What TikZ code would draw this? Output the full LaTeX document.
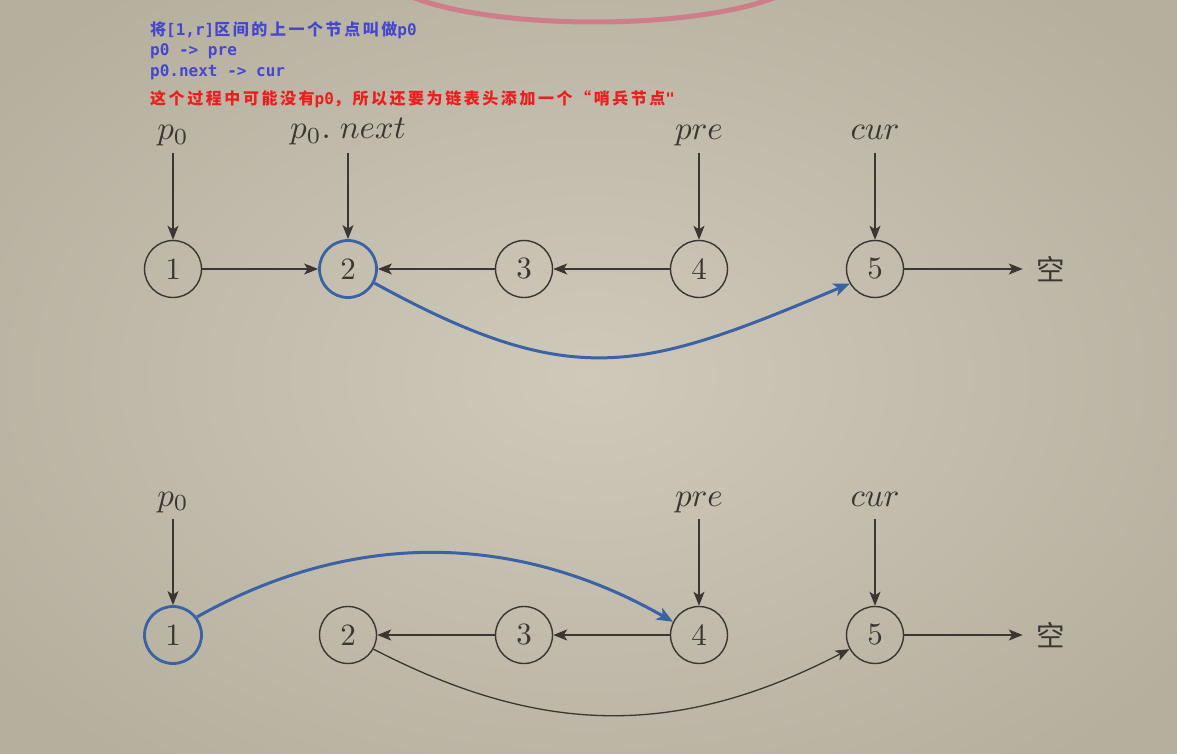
\documentclass[tikz,border=0pt]{standalone}
\usepackage{fontspec}
\usepackage{graphicx}
\newfontfamily\cjkfont[LetterSpace=16]{Noto Sans CJK SC}
\newfontfamily\cjkbig{Noto Sans CJK SC}
\newfontfamily\monofont{DejaVu Sans Mono}
\usetikzlibrary{arrows.meta}
\definecolor{ink}{HTML}{3B3631}
\definecolor{myblue}{HTML}{3A62A4}
\definecolor{codeblue}{HTML}{4646CE}
\definecolor{codered}{HTML}{EE1C1C}
\definecolor{pinkc}{HTML}{CF7C8B}
\definecolor{bgmid}{HTML}{CFC9BA}
\definecolor{bgout}{HTML}{B5AF9E}
\newcommand\cj[1]{{\cjkfont #1}}
\newcommand\lblmath[1]{\scalebox{3.3}{\normalsize$#1$}}
\newcommand\lbldigit[1]{\scalebox{3.1}{\normalsize #1}}
\tikzset{
  lnode/.style={circle, draw=ink, line width=1.4pt, minimum size=57pt, inner sep=0pt, text=ink},
  bnode/.style={lnode, draw=myblue, line width=2.8pt},
  lab/.style={anchor=base, inner sep=0pt, text=ink},
  arr/.style={draw=ink, line width=1.3pt, -{Stealth[length=14pt,width=11pt,inset=3.5pt]}},
  barr/.style={draw=myblue, line width=3pt, -{Stealth[length=16pt,width=13pt,inset=4pt]}},
  code/.style={anchor=base west, inner sep=0pt, font=\monofont\bfseries\fontsize{16}{19}\selectfont},
  emptynode/.style={inner sep=0pt, outer sep=14pt, text=ink, font=\cjkbig\fontsize{28.5}{34}\selectfont}
}
\begin{document}
\begin{tikzpicture}[x=1pt,y=-1pt]
\useasboundingbox (0,0) rectangle (1177,754);
\clip (0,0) rectangle (1177,754);
\fill[bgout] (0,0) rectangle (1177,754);
\shade[inner color=bgmid, outer color=bgout] (-150,-120) rectangle (1327,874);
\draw[pinkc, line width=5pt] (594,-30) ellipse [x radius=213, y radius=52];

% top text
\node[code, text=codeblue] (t1) at (150,36) {\cj{将}[1,r]\cj{区间的上一个节点叫做}p0};
\node[code, text=codeblue] (t2) at (150,56) {p0 -> pre};
\node[code, text=codeblue] (t3) at (150,77) {p0.next -> cur};
\node[code, text=codered] (t4) at (150,105) {\cj{这个过程中可能没有}p0\cj{，所以还要为链表头添加一个“哨兵节点}"};

% row 1
\node[lnode] (r1n1) at (173,269) {\lbldigit{1}};
\node[bnode] (r1n2) at (348,269) {\lbldigit{2}};
\node[lnode] (r1n3) at (524,269) {\lbldigit{3}};
\node[lnode] (r1n4) at (699,269) {\lbldigit{4}};
\node[lnode] (r1n5) at (875,269) {\lbldigit{5}};
\node[emptynode] (r1e) at (1051,269) {空};

\node[lab] (l1a) at (173,140) {\lblmath{p_0}};
\node[lab] (l1b) at (348,139) {\lblmath{p_0.\;next}};
\node[lab] (l1c) at (699,140) {\lblmath{pre}};
\node[lab] (l1d) at (875,140) {\lblmath{cur}};
\coordinate (s1a) at (173,153);
\coordinate (s1b) at (348,153);
\coordinate (s1c) at (699,153);
\coordinate (s1d) at (875,153);
\draw[arr] (s1a) -- (r1n1);
\draw[arr] (s1b) -- (r1n2);
\draw[arr] (s1c) -- (r1n4);
\draw[arr] (s1d) -- (r1n5);

\draw[arr] (r1n1) -- (r1n2);
\draw[arr] (r1n3) -- (r1n2);
\draw[arr] (r1n4) -- (r1n3);
\draw[arr] (r1n5) -- (r1e);
\draw[barr] (r1n2.-28) .. controls +(200,110) and +(-207,87) .. (r1n5.-150);

% row 2
\node[bnode] (r2n1) at (173,635) {\lbldigit{1}};
\node[lnode] (r2n2) at (348,635) {\lbldigit{2}};
\node[lnode] (r2n3) at (524,635) {\lbldigit{3}};
\node[lnode] (r2n4) at (699,635) {\lbldigit{4}};
\node[lnode] (r2n5) at (875,635) {\lbldigit{5}};
\node[emptynode] (r2e) at (1051,635) {空};

\node[lab] (l2a) at (173,506) {\lblmath{p_0}};
\node[lab] (l2c) at (699,506) {\lblmath{pre}};
\node[lab] (l2d) at (875,506) {\lblmath{cur}};
\coordinate (s2a) at (173,519);
\coordinate (s2c) at (699,519);
\coordinate (s2d) at (875,519);
\draw[arr] (s2a) -- (r2n1);
\draw[arr] (s2c) -- (r2n4);
\draw[arr] (s2d) -- (r2n5);

\draw[arr] (r2n3) -- (r2n2);
\draw[arr] (r2n4) -- (r2n3);
\draw[arr] (r2n5) -- (r2e);
\draw[barr] (r2n1.37) .. controls +(157,-88) and +(-156,-89) .. (r2n4.153);
\draw[arr] (r2n2.-29) .. controls +(170,88) and +(-170,88) .. (r2n5.-151);
\end{tikzpicture}
\end{document}
